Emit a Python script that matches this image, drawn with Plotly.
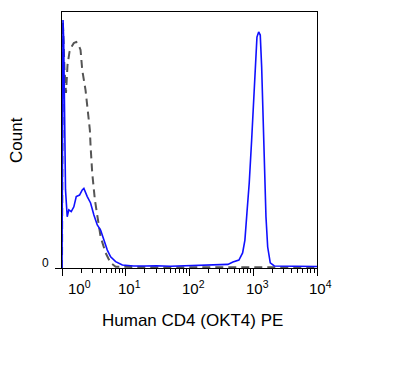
import math
import plotly.graph_objects as go

# ---- data (fluorescence intensity, count as % of max scale) ----
blue_x = [1.0, 1.037, 1.063, 1.087, 1.107, 1.135, 1.207, 1.279, 1.396, 1.534, 1.673,
          1.885, 2.078, 2.203, 2.49, 2.806, 3.163, 3.575, 4.03, 4.543, 5.14, 5.79,
          6.94, 8.84, 13.3, 20, 30, 50, 80, 120, 200, 300, 400, 480, 596, 681, 740,
          796, 865, 944, 1015, 1075, 1143, 1216, 1288, 1355, 1422, 1490, 1584, 1684,
          1849, 2138, 3000, 5000, 10000]
blue_y = [0, 96.9, 89.1, 65.6, 50.0, 30.5, 20.0, 22.7, 22.0, 23.9, 27.9,
          28.5, 30.5, 31.1, 27.9, 25.4, 20.7, 16.8, 14.8, 10.9, 7.0, 4.4,
          2.5, 1.2, 0.8, 0.8, 0.9, 0.7, 0.8, 1.0, 1.1, 1.2, 1.4, 2.3, 3.1, 5.9, 10.9,
          21.5, 33.2, 50.0, 65.6, 81.3, 90.2, 92.2, 91.0, 78.5, 59.0, 39.5, 19.9, 8.2,
          2.0, 0.8, 0.7, 0.6, 0.6]

gray_x = [1.0, 1.03, 1.056, 1.095, 1.156, 1.22, 1.31, 1.437, 1.533, 1.673, 1.818,
          1.954, 2.078, 2.34, 2.548, 2.736, 2.81, 2.98, 3.28, 3.575, 4.03, 4.83,
          5.79, 6.94, 9.9, 30, 100, 300, 1000, 3000, 10000]
gray_y = [0, 96.1, 89.1, 77.3, 68.4, 79.3, 84.4, 86.7, 87.9, 88.3, 87.1,
          85.2, 77.3, 69.5, 61.7, 53.9, 47.4, 37.1, 26.6, 20.0, 12.2, 5.9,
          2.0, 0.5, 0.4, 0.3, 0.3, 0.3, 0.3, 0.3, 0.3]

tick_vals = [1, 10, 100, 1000, 10000]
tick_labels = ["10<sup>0</sup>", "10<sup>1</sup>", "10<sup>2</sup>", "10<sup>3</sup>", "10<sup>4</sup>"]
minor_vals = [m * d for d in [1, 10, 100, 1000] for m in range(2, 10)]
y_tick_vals = [0]
y_tick_labels = ["0"]

x_title = "Human CD4 (OKT4) PE"
y_title = "Count"

FONT = "Arial, Liberation Sans, sans-serif"

fig = go.Figure()
fig.add_trace(go.Scatter(x=gray_x, y=gray_y, mode="lines",
                         line=dict(color="#555555", width=2, dash="8px,5px"),
                         showlegend=False))
fig.add_trace(go.Scatter(x=blue_x, y=blue_y, mode="lines",
                         line=dict(color="#1010ff", width=1.6),
                         showlegend=False))

fig.update_xaxes(type="log", range=[0, 4], showgrid=False, zeroline=False,
                 showline=True, linecolor="black", linewidth=1, mirror=True,
                 ticks="outside", ticklen=7, tickcolor="black",
                 tickmode="array", tickvals=tick_vals, showticklabels=False,
                 minor=dict(ticks="outside", ticklen=4, tickcolor="black",
                            tickmode="array", tickvals=minor_vals, showgrid=False))
fig.update_yaxes(range=[0, 100], showgrid=False, zeroline=False,
                 showline=True, linecolor="black", linewidth=1, mirror=True,
                 ticks="outside", ticklen=6, tickcolor="black",
                 tickmode="array", tickvals=y_tick_vals, showticklabels=False)

shifts = [17, 4, 4, 4, 3]
annotations = []
for v, lab, s in zip(tick_vals, tick_labels, shifts):
    annotations.append(dict(x=math.log10(v), y=0, xref="x", yref="paper",
                            text=lab, showarrow=False, xanchor="center", yanchor="top",
                            xshift=s, yshift=-8,
                            font=dict(family=FONT, size=15, color="black")))
for v, lab in zip(y_tick_vals, y_tick_labels):
    annotations.append(dict(x=0, y=v, xref="paper", yref="y", text=lab,
                            showarrow=False, xanchor="center", yanchor="middle",
                            xshift=-17, yshift=5,
                            font=dict(family=FONT, size=12, color="black")))
annotations.append(dict(x=0.5, y=0, xref="paper", yref="paper", text=x_title,
                        showarrow=False, xanchor="center", yanchor="top",
                        xshift=3, yshift=-41,
                        font=dict(family=FONT, size=17, color="black")))
annotations.append(dict(x=0, y=0.5, xref="paper", yref="paper", text=y_title,
                        showarrow=False, xanchor="center", yanchor="middle",
                        textangle=-90, xshift=-46,
                        font=dict(family=FONT, size=17, color="black")))

# page body has an 8px margin, so the figure is drawn 8px smaller and offset
fig.update_layout(width=387, height=367,
                  margin=dict(l=54, r=78, t=4, b=107),
                  paper_bgcolor="white", plot_bgcolor="white",
                  annotations=annotations)

fig.write_html("out.html")
